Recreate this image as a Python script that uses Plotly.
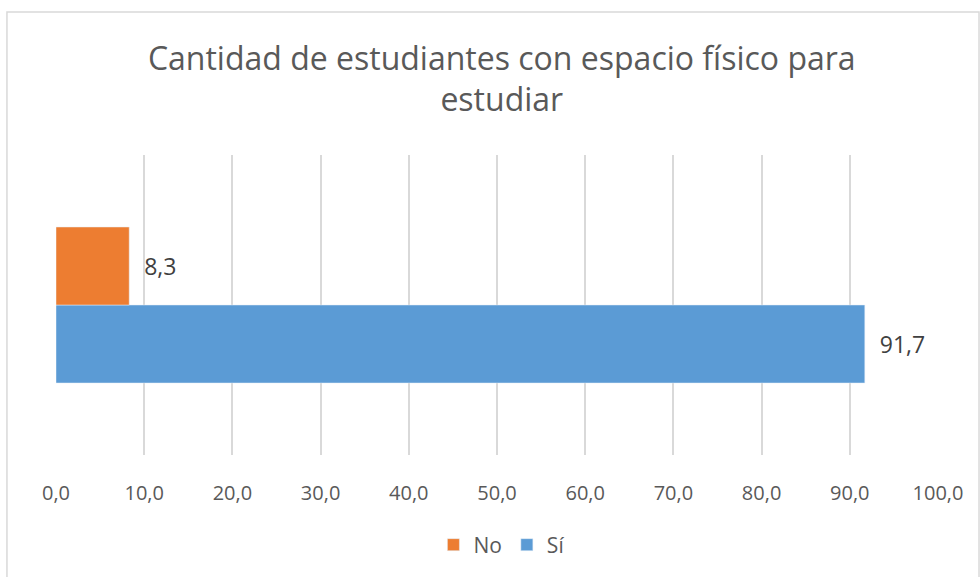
import plotly.graph_objects as go

# ---------------------------------- #
#               DATA                 #
# ---------------------------------- #

CATEGORIAS = ['']
SERIES = ['Sí', 'No']
VALORES_SI = [91.7]
VALORES_NO = [8.3]
X_TICKS = [0, 10, 20, 30, 40, 50, 60, 70, 80, 90, 100]

# ---------------------------------- #
#              STYLE                 #
# ---------------------------------- #

SET_FONT = 'Open Sans'
COLOR_SI = '#5B9BD5'
COLOR_NO = '#ED7D31'
GRID_COLOR = '#D9D9D9'
TEXT_COLOR = '#595959'
LABEL_COLOR = '#404040'
PAD = '\u00a0\u00a0'  # little gap between bar end and its label

fig = go.Figure()

# bottom bar: Sí
fig.add_trace(
    go.Bar(y=CATEGORIAS, x=VALORES_SI,
           name=SERIES[0],
           orientation='h',
           marker_color=COLOR_SI,
           texttemplate=PAD + '%{x:.1f}',
           textposition='outside',
           textfont=dict(size=23, color=LABEL_COLOR),
           cliponaxis=False,
           legendrank=2))

# top bar: No
fig.add_trace(
    go.Bar(y=CATEGORIAS, x=VALORES_NO,
           name=SERIES[1],
           orientation='h',
           marker_color=COLOR_NO,
           texttemplate=PAD + '%{x:.1f}',
           textposition='outside',
           textfont=dict(size=23, color=LABEL_COLOR),
           cliponaxis=False,
           legendrank=1))

fig.update_xaxes(
    range=[0, 100],
    tickvals=X_TICKS,
    tickformat='.1f',
    showgrid=True,
    gridcolor=GRID_COLOR,
    gridwidth=2,
    zeroline=False,
    showline=False,
    ticklabelstandoff=24,
    tickfont=dict(size=20, color=TEXT_COLOR),
)

fig.update_yaxes(
    showticklabels=False,
    showgrid=False,
    zeroline=False,
    showline=False,
)

# chart border (Excel-like frame)
fig.add_shape(type='rect', xref='paper', yref='paper',
              x0=-0.0556, x1=1.0465, y0=-0.6, y1=1.477,
              line=dict(color='#D9D9D9', width=1.5),
              fillcolor='rgba(0,0,0,0)', layer='below')

fig.update_layout(
    width=980, height=577,
    separators=',.',
    barmode='group',
    bargap=0.48,
    bargroupgap=0,
    plot_bgcolor='white',
    paper_bgcolor='white',
    font_family=SET_FONT,
    title=dict(
        text='Cantidad de estudiantes con espacio físico para<br>estudiar',
        x=0.512, xanchor='center',
        y=0.879, yanchor='middle',
        font=dict(size=32, color=TEXT_COLOR),
    ),
    legend=dict(
        orientation='h',
        x=0.505, xanchor='center',
        y=-0.3, yanchor='middle',
        font=dict(size=21, color=TEXT_COLOR),
        itemwidth=30,
    ),
    margin=dict(l=56, r=42, t=155, b=122),
)

fig.write_html('out.html', config={'displayModeBar': False},
               post_script="document.body.style.margin='0';")
